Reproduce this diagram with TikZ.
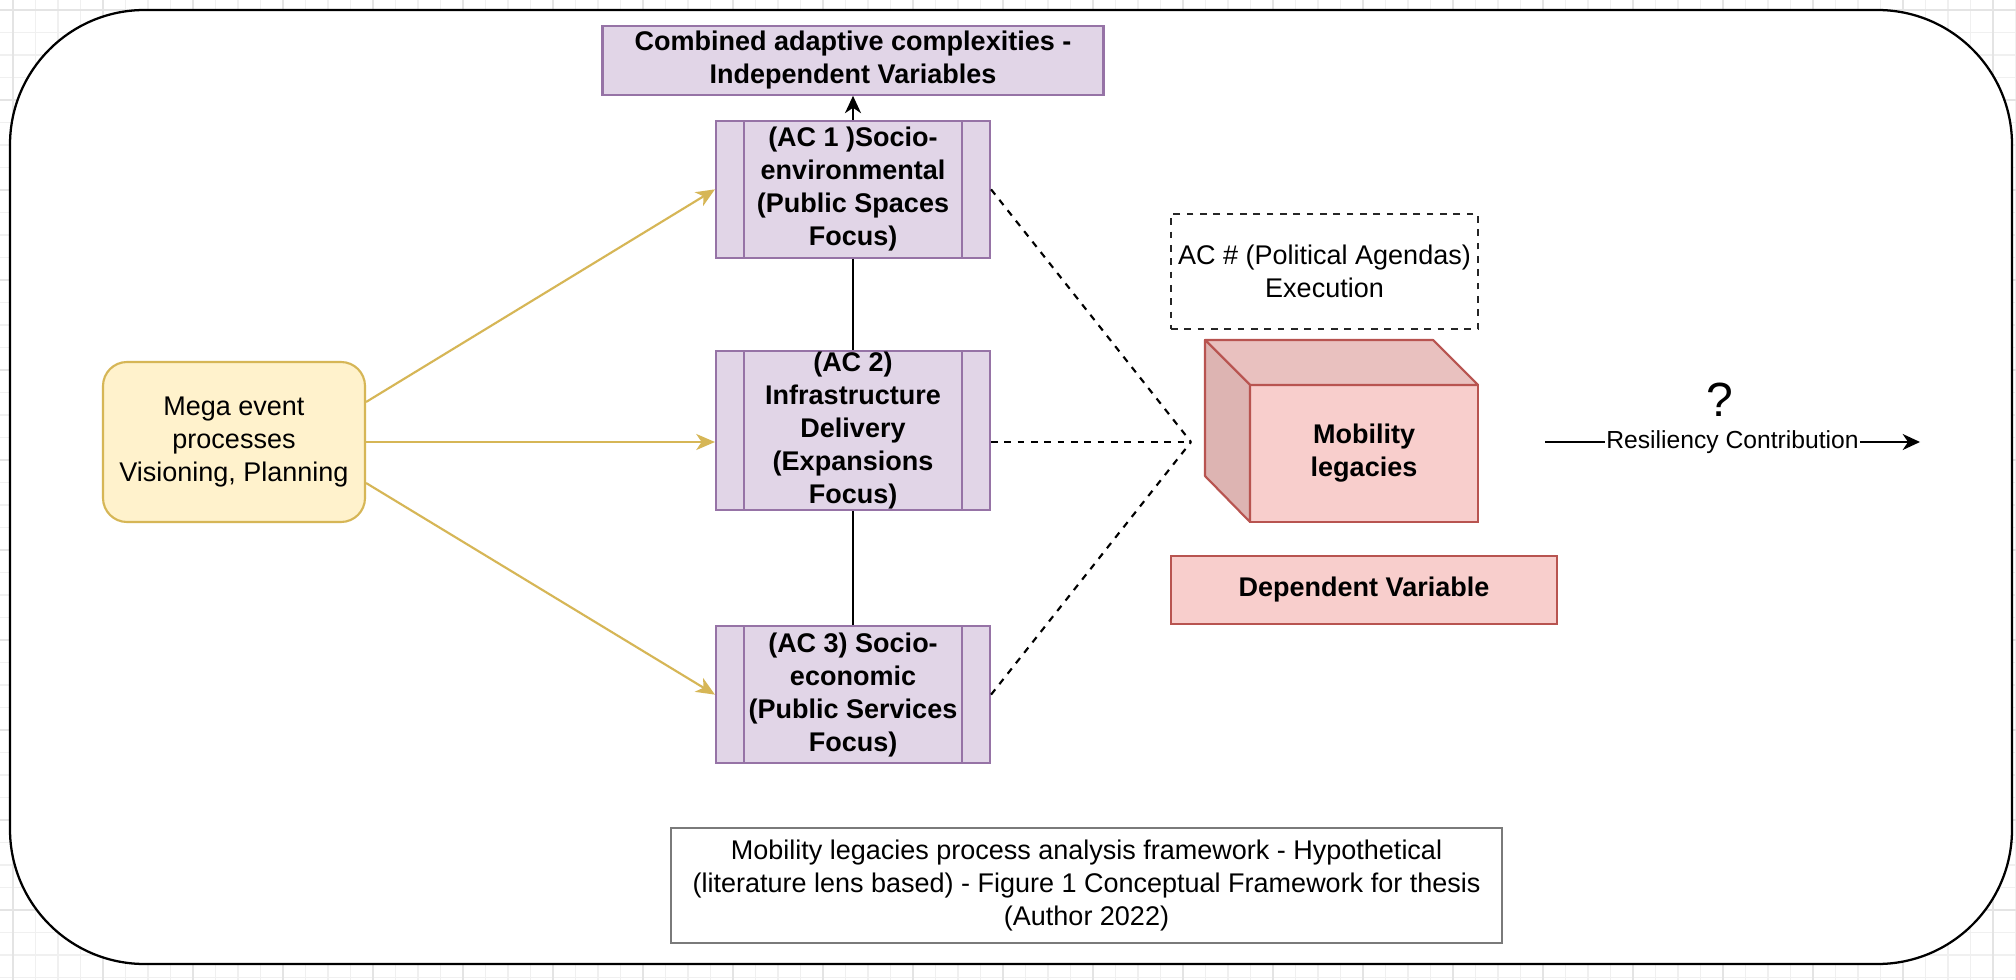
\documentclass[tikz,border=0pt]{standalone}
\usepackage{fontspec}
\setmainfont{Liberation Sans}
\usetikzlibrary{positioning,arrows.meta}
\definecolor{purplefill}{HTML}{E1D5E7}
\definecolor{purpleline}{HTML}{9673A6}
\definecolor{yellowfill}{HTML}{FFF2CC}
\definecolor{yellowline}{HTML}{D6B656}
\definecolor{pinkfill}{HTML}{F8CECC}
\definecolor{pinkline}{HTML}{B85450}
\definecolor{pinktop}{HTML}{E9C1BF}
\definecolor{pinkside}{HTML}{DDB4B2}
\definecolor{gridline}{HTML}{F0F0F0}
\definecolor{gridmajor}{HTML}{E4E4E4}
\definecolor{captionline}{HTML}{7A7A7A}
\newcommand{\boxfont}{\fontsize{20.25pt}{24.75pt}\selectfont}
\newcommand{\edgefont}{\fontsize{18.5pt}{22.5pt}\selectfont}
\tikzstyle{block} = [draw, rectangle, align=center, inner sep=0pt, line width=1.6pt, font=\boxfont]
\tikzstyle{acbox} = [block, fill=purplefill, draw=purpleline, font=\boxfont\bfseries, minimum width=205.5pt,
  path picture={\draw[purpleline, line width=1.6pt]
    ([xshift=21pt]path picture bounding box.north west) -- ([xshift=21pt]path picture bounding box.south west)
    ([xshift=-21pt]path picture bounding box.north east) -- ([xshift=-21pt]path picture bounding box.south east);}]
\tikzstyle{link} = [line width=1.6pt]
\tikzstyle{feed} = [link, yellowline, -{Stealth[length=14pt, width=12pt, inset=4pt]}]
\tikzstyle{tie} = [link, dash pattern=on 5pt off 5pt]
\tikzstyle{tip} = [-{Stealth[length=13pt, width=12pt, inset=4pt]}]

\begin{document}
\begin{tikzpicture}[x=0.75pt, y=-0.75pt]
\useasboundingbox (0,0) rectangle (2016,980);
% background grid
\foreach \gx in {0,...,89} \draw[gridline, line width=0.8pt] (13+22.5*\gx,0) -- (13+22.5*\gx,980);
\foreach \gy in {0,...,43} \draw[gridline, line width=0.8pt] (0,10+22.5*\gy) -- (2016,10+22.5*\gy);
\foreach \gx in {0,...,22} \draw[gridmajor, line width=0.8pt] (13+90*\gx,0) -- (13+90*\gx,980);
\foreach \gy in {0,...,10} \draw[gridmajor, line width=0.8pt] (0,10+90*\gy) -- (2016,10+90*\gy);
% frame
\draw[line width=1.7pt, fill=white, rounded corners=101pt] (10,10) rectangle (2012,964);

\node (mega) [block, fill=yellowfill, draw=yellowline, rounded corners=18pt, minimum width=196.5pt, minimum height=120pt] at (234,442) {Mega event\\processes\\Visioning, Planning};
\node (ac2) [acbox, minimum height=119.25pt] at (853,430.5) {(AC 2)\\Infrastructure\\Delivery\\(Expansions\\Focus)};
\node (ac1) [acbox, minimum height=102.75pt, above=68.25pt of ac2] {(AC 1 )Socio-\\environmental\\(Public Spaces\\Focus)};
\node (ac3) [acbox, minimum height=102.75pt, below=85.5pt of ac2] {(AC 3) Socio-\\economic\\(Public Services\\Focus)};
\node (combined) [block, fill=purplefill, draw=purpleline, font=\boxfont\bfseries, minimum width=375.75pt, minimum height=51.75pt, above=18pt of ac1] {Combined adaptive complexities -\\Independent Variables};
\draw [feed] ([yshift=30pt]mega.east) -- (ac1.west);
\draw [feed] (mega.east) -- (mega.east -| ac2.west);
\draw [feed] ([yshift=-30.75pt]mega.east) -- (ac3.west);
\draw [link, tip] (ac1) -- (combined);
\draw [link] (ac1) -- (ac2);
\draw [link] (ac2) -- (ac3);

\coordinate (meet) at (1191,442);
\draw [tie] (ac1.east) -- (meet);
\draw [tie] (ac2.east |- meet) -- (meet);
\draw [tie] (ac3.east) -- (meet);

\node (agenda) [block, line width=1.2pt, dash pattern=on 5pt off 5pt, draw=black!85, minimum width=230.25pt, minimum height=86.25pt] at (1324.5,271.5) {AC \# (Political Agendas)\\Execution};
% cube
\node (legacy) [block, fill=pinkfill, draw=pinkline, font=\boxfont\bfseries, outer sep=0pt, minimum width=171pt, minimum height=102.75pt] at (1364,453.5) {Mobility\\legacies};
\draw [link, pinkline, fill=pinktop, line join=round] (legacy.north west) -- ++(-45,-45) -- ++(228,0) -- (legacy.north east) -- cycle;
\draw [link, pinkline, fill=pinkside, line join=round] (legacy.north west) -- ++(-45,-45) -- ++(0,136) -- (legacy.south west) -- cycle;
\node (depvar) [block, fill=pinkfill, draw=pinkline, font=\boxfont\bfseries, minimum width=289.5pt, minimum height=51pt] at (1364,590) {Dependent Variable};

\node (question) [font=\fontsize{36pt}{40pt}\selectfont] at (1720,400) {?};
\coordinate (resstart) at (1545,442);
\coordinate (resend) at (1920,442);
\draw [link, tip] (resstart) -- node[fill=white, inner sep=1pt, font=\edgefont] {Resiliency Contribution} (resend);

\node (caption) [block, draw=captionline, minimum width=623.25pt, minimum height=86.25pt] at (1086.5,885.5) {Mobility legacies process analysis framework - Hypothetical\\(literature lens based) - Figure 1 Conceptual Framework for thesis\\(Author 2022)};
\end{tikzpicture}
\end{document}
